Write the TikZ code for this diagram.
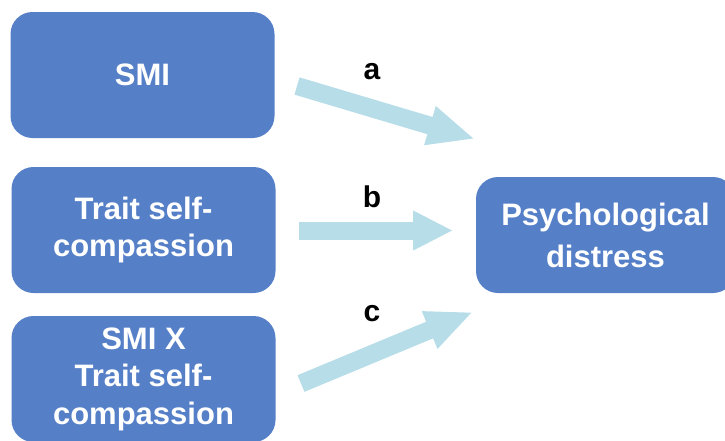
\documentclass[tikz,border=0pt]{standalone}
\usepackage{fontspec}
\setmainfont{Liberation Sans}
\usetikzlibrary{arrows.meta}
\definecolor{boxblue}{RGB}{85,128,200}
\definecolor{arrowblue}{RGB}{183,221,232}
\begin{document}
\begin{tikzpicture}[x=1pt, y=-1pt,
predictor/.style={rectangle, rounded corners=22pt, fill=boxblue, text=white, font=\fontsize{31}{37.5}\selectfont\bfseries, align=center, inner sep=0pt, minimum width=264pt, minimum height=126pt},
outcome/.style={predictor, minimum width=259pt, minimum height=116pt, font=\fontsize{31}{42}\selectfont\bfseries},
effect/.style={draw=arrowblue, line width=18pt, -{Triangle[width=37pt, length=47pt]}},
pathlabel/.style={font=\fontsize{30}{36}\selectfont\bfseries},
]
\useasboundingbox (0,0) rectangle (725,440);
\clip (0,0) rectangle (725,440);
% predictors
\node[predictor] (SMI) at (142.5,75) {SMI};
\node[predictor] (TSC) at (143.5,230) {Trait self-\\compassion};
\node[predictor] (INT) at (143.5,379) {SMI X\\Trait self-\\compassion};
% outcome
\node[outcome] (PD) at (605.5,235) {Psychological\\distress};
% arrow ends
\coordinate (a1) at (297,86);
\coordinate (a2) at (475,139);
\coordinate (b1) at (299,230.5);
\coordinate (b2) at (453,230.5);
\coordinate (c1) at (301,383.5);
\coordinate (c2) at (473,312);
\draw[effect] (a1) -- (a2);
\draw[effect, -{Triangle[width=37pt, length=40pt]}] (b1) -- (b2);
\draw[effect] (c1) -- (c2);
\node[pathlabel] (A) at (372,72) {a};
\node[pathlabel] (B) at (372,197) {b};
\node[pathlabel] (C) at (372,314) {c};
\end{tikzpicture}
\end{document}
